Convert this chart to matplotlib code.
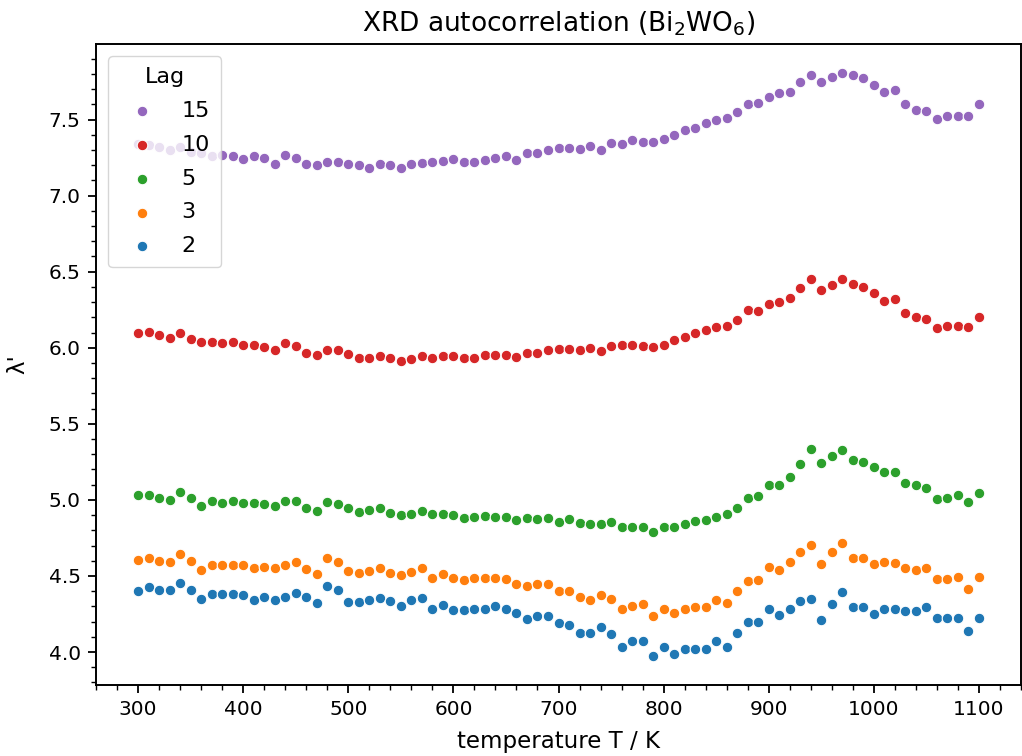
import numpy as np
import matplotlib
matplotlib.use("Agg")
import matplotlib.pyplot as plt

temperature = list(range(300, 1101, 10))

lag15 = [7.34, 7.33, 7.32, 7.30, 7.32, 7.285, 7.28, 7.26, 7.265, 7.26,
         7.24, 7.26, 7.245, 7.21, 7.27, 7.245, 7.21, 7.20, 7.22, 7.22,
         7.21, 7.20, 7.18, 7.21, 7.20, 7.18, 7.21, 7.215, 7.22, 7.225,
         7.24, 7.22, 7.22, 7.235, 7.25, 7.26, 7.235, 7.28, 7.28, 7.30,
         7.31, 7.31, 7.305, 7.325, 7.30, 7.345, 7.34, 7.365, 7.355, 7.355,
         7.375, 7.40, 7.43, 7.445, 7.48, 7.495, 7.51, 7.55, 7.60, 7.61,
         7.645, 7.675, 7.68, 7.75, 7.79, 7.745, 7.78, 7.805, 7.79, 7.77,
         7.73, 7.68, 7.695, 7.60, 7.565, 7.555, 7.505, 7.525, 7.52, 7.525,
         7.60]

lag10 = [6.10, 6.105, 6.085, 6.065, 6.10, 6.06, 6.035, 6.035, 6.03, 6.04,
         6.015, 6.02, 6.005, 5.985, 6.03, 6.01, 5.965, 5.95, 5.985, 5.985,
         5.96, 5.935, 5.935, 5.945, 5.93, 5.915, 5.925, 5.945, 5.935, 5.945,
         5.945, 5.93, 5.93, 5.95, 5.95, 5.955, 5.94, 5.965, 5.965, 5.985,
         5.99, 5.995, 5.985, 6.00, 5.98, 6.01, 6.02, 6.02, 6.01, 6.005,
         6.02, 6.05, 6.07, 6.095, 6.115, 6.135, 6.14, 6.18, 6.245, 6.24,
         6.29, 6.30, 6.325, 6.395, 6.45, 6.38, 6.415, 6.45, 6.42, 6.40,
         6.36, 6.31, 6.32, 6.23, 6.20, 6.19, 6.13, 6.14, 6.145, 6.135,
         6.20]

lag5 = [5.035, 5.03, 5.015, 5.00, 5.05, 5.01, 4.96, 4.99, 4.98, 4.99,
        4.98, 4.98, 4.97, 4.96, 4.99, 4.995, 4.945, 4.93, 4.985, 4.975,
        4.95, 4.92, 4.935, 4.945, 4.915, 4.90, 4.91, 4.93, 4.905, 4.905,
        4.90, 4.88, 4.885, 4.895, 4.89, 4.89, 4.865, 4.88, 4.875, 4.88,
        4.855, 4.875, 4.85, 4.84, 4.84, 4.855, 4.82, 4.825, 4.82, 4.79,
        4.825, 4.825, 4.84, 4.86, 4.87, 4.89, 4.91, 4.95, 5.01, 5.025,
        5.095, 5.10, 5.15, 5.235, 5.335, 5.24, 5.29, 5.33, 5.265, 5.25,
        5.215, 5.185, 5.185, 5.11, 5.095, 5.08, 5.005, 5.01, 5.035, 4.985,
        5.045]

lag3 = [4.605, 4.615, 4.60, 4.595, 4.645, 4.60, 4.54, 4.575, 4.57, 4.57,
        4.57, 4.555, 4.56, 4.55, 4.57, 4.59, 4.545, 4.515, 4.615, 4.59,
        4.53, 4.52, 4.535, 4.55, 4.52, 4.505, 4.525, 4.55, 4.49, 4.51,
        4.485, 4.475, 4.485, 4.485, 4.49, 4.48, 4.45, 4.435, 4.445, 4.445,
        4.40, 4.40, 4.36, 4.345, 4.375, 4.35, 4.28, 4.305, 4.315, 4.24,
        4.285, 4.255, 4.285, 4.295, 4.295, 4.34, 4.32, 4.40, 4.465, 4.475,
        4.56, 4.54, 4.59, 4.655, 4.705, 4.58, 4.66, 4.72, 4.62, 4.62,
        4.58, 4.59, 4.585, 4.55, 4.54, 4.55, 4.48, 4.48, 4.495, 4.415,
        4.495]

lag2 = [4.40, 4.425, 4.41, 4.405, 4.455, 4.41, 4.35, 4.38, 4.38, 4.38,
        4.375, 4.34, 4.365, 4.345, 4.365, 4.39, 4.36, 4.32, 4.435, 4.405,
        4.33, 4.33, 4.34, 4.355, 4.335, 4.305, 4.345, 4.355, 4.285, 4.31,
        4.275, 4.275, 4.285, 4.28, 4.30, 4.285, 4.255, 4.215, 4.235, 4.235,
        4.19, 4.175, 4.125, 4.125, 4.165, 4.12, 4.03, 4.07, 4.075, 3.975,
        4.03, 3.985, 4.02, 4.02, 4.02, 4.075, 4.03, 4.125, 4.195, 4.195,
        4.28, 4.245, 4.285, 4.335, 4.35, 4.21, 4.315, 4.395, 4.295, 4.295,
        4.25, 4.285, 4.28, 4.27, 4.27, 4.295, 4.225, 4.225, 4.225, 4.14,
        4.225]

lags = ["15", "10", "5", "3", "2"]
series = [lag15, lag10, lag5, lag3, lag2]
colors = ["#9467bd", "#d62728", "#2ca02c", "#ff7f0e", "#1f77b4"]

plt.rcParams["font.family"] = ["DejaVu Sans"]
plt.rcParams["font.size"] = 14.5

fig = plt.figure(figsize=(10.22, 7.56), dpi=100)
ax = fig.add_axes([96 / 1022, 1 - 685 / 756, (1021 - 96) / 1022, (685 - 44) / 756])

for lab, vals, col in zip(lags, series, colors):
    ax.scatter(temperature, vals, s=58, color=col, edgecolors="white",
               linewidths=0.8, label=lab, zorder=2)

ax.minorticks_on()
ax.set_xticks([300, 400, 500, 600, 700, 800, 900, 1000, 1100])
ax.set_yticks([4.0, 4.5, 5.0, 5.5, 6.0, 6.5, 7.0, 7.5])
ax.tick_params(which="major", length=6, width=1.3, pad=5, labelsize=14.5)
ax.tick_params(which="minor", length=3.6, width=1.0)
for sp in ax.spines.values():
    sp.set_linewidth(1.4)
ax.set_title("XRD autocorrelation (Bi$_2$WO$_6$)", fontsize=19, pad=9)
ax.set_xlabel("temperature T / K", fontsize=16.5, labelpad=8)
ax.set_ylabel("λ'", fontsize=16.5, labelpad=14)
ax.legend(title="Lag", loc="upper left", fontsize=16, title_fontsize=16,
          borderpad=0.5, handletextpad=0.8, labelspacing=0.62,
          borderaxespad=0.55)

fig.savefig("out.png", dpi=100)
